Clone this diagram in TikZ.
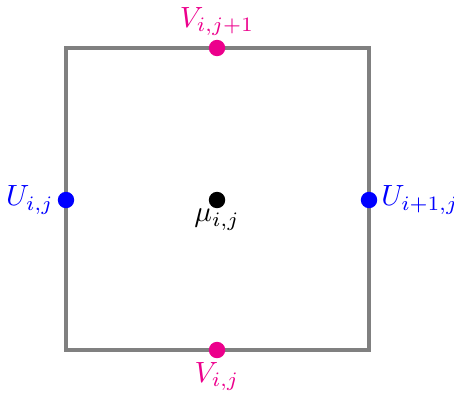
\documentclass[tikz,border=0pt]{standalone}
\definecolor{mymag}{RGB}{236,0,140}
\definecolor{mygray}{RGB}{128,128,128}
\tikzset{
  pt/.style={circle,fill,inner sep=0pt,minimum size=5.6pt},
  edge/.style={draw=mygray,line width=1.4pt},
}
\begin{document}
\begin{tikzpicture}[x=0.3415pt,y=-0.3415pt]
\useasboundingbox (0,0) rectangle (454,393);
\coordinate (tl) at (66,48);
\coordinate (tr) at (369,48);
\coordinate (br) at (369,350);
\coordinate (bl) at (66,350);
\draw[edge] (tl) -- (tr) -- (br) -- (bl) -- cycle;
\node[pt,mymag,label={[mymag,inner sep=1pt]above:$V_{i,j+1}$}] (vt) at (217,48) {};
\node[pt,mymag,label={[mymag,inner sep=1pt]below:$V_{i,j}$}] (vb) at (217,350) {};
\node[pt,blue,label={[blue,inner sep=1pt]left:$U_{i,j}$}] (ul) at (66,200) {};
\node[pt,blue,label={[blue,inner sep=1pt]right:$U_{i+1,j}$}] (ur) at (369,200) {};
\node[pt,black,label={[black,inner sep=0pt]below:$\mu_{i,j}$}] (mu) at (217,200) {};
\end{tikzpicture}
\end{document}
